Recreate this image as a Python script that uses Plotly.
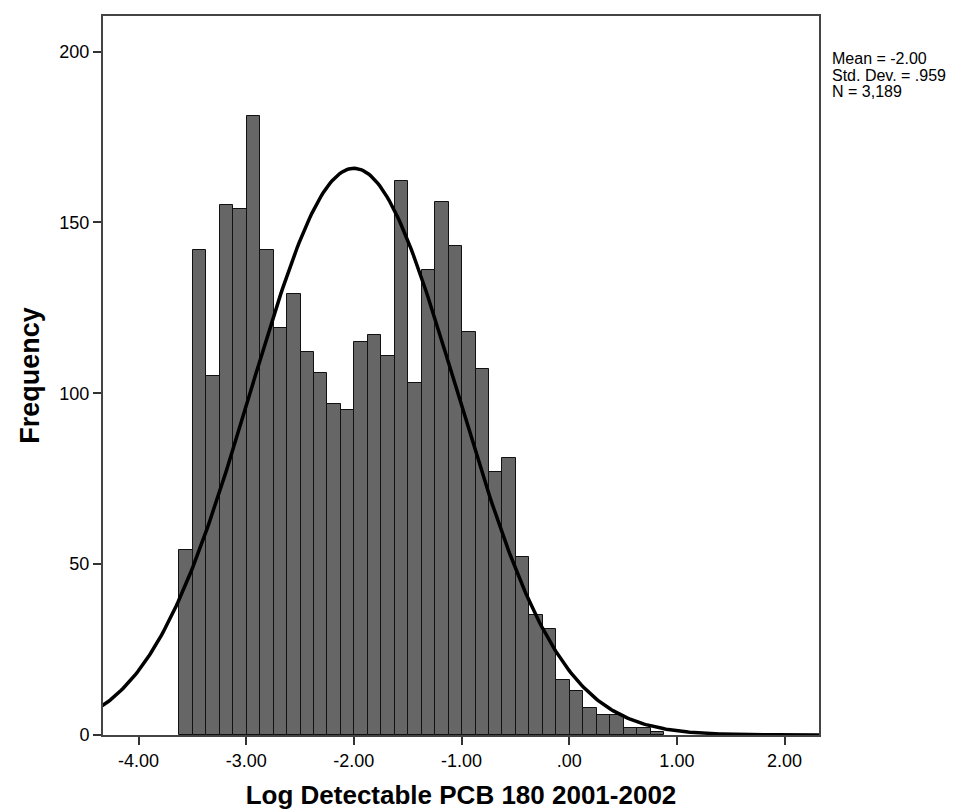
import numpy as np
import plotly.graph_objects as go

# histogram counts (bin width ~0.125, first bin starts at -3.62)
bin_start = -3.62
bin_width = 0.125
counts = [54, 142, 105, 155, 154, 181, 142, 119, 129, 112, 106, 97, 95, 115, 117,
          111, 162, 103, 136, 156, 143, 118, 107, 77, 81, 52, 35, 31, 16, 13, 8,
          6, 6, 2, 2, 1]

mean = -2.00
std_dev = 0.959
n_total = 3189

x_ticks = [-4, -3, -2, -1, 0, 1, 2]
x_tick_labels = ["-4.00", "-3.00", "-2.00", "-1.00", ".00", "1.00", "2.00"]
y_ticks = [0, 50, 100, 150, 200]

centers = [bin_start + bin_width * (i + 0.5) for i in range(len(counts))]

# normal curve scaled to counts
xs = np.linspace(-4.4, 2.4, 400)
ys = n_total * bin_width / (std_dev * np.sqrt(2 * np.pi)) * np.exp(-0.5 * ((xs - mean) / std_dev) ** 2)

fig = go.Figure()
fig.add_trace(go.Bar(
    x=centers, y=counts, width=bin_width,
    marker=dict(color="#666666", line=dict(color="#111111", width=1)),
    showlegend=False,
))
fig.add_trace(go.Scatter(
    x=xs, y=ys, mode="lines",
    line=dict(color="black", width=3.5),
    showlegend=False,
))

stats = ["Mean = -2.00", "Std. Dev. = .959", "N = 3,189"]
for i, s in enumerate(stats):
    fig.add_annotation(
        text=s, xref="paper", yref="paper",
        x=1.016, y=(727 - 51 - 16 * i) / 719,
        xanchor="left", yanchor="middle", showarrow=False,
        font=dict(family="Arial, Liberation Sans", size=16, color="black"),
    )

fig.update_layout(
    width=966, height=812,
    margin=dict(l=95, r=155, t=8, b=85, autoexpand=False),
    plot_bgcolor="white", paper_bgcolor="white",
    bargap=0,
    font=dict(family="Arial, Liberation Sans", color="black"),
)
fig.update_xaxes(
    range=[-4.33, 2.32], automargin=False,
    tickvals=x_ticks, ticktext=x_tick_labels,
    ticks="outside", ticklen=8, tickcolor="#333333", tickwidth=1.5,
    tickfont=dict(size=18),
    showline=True, linecolor="#444444", linewidth=2, mirror=True,
    showgrid=False, zeroline=False,
    title=dict(text="<b>Log Detectable PCB 180 2001-2002</b>", font=dict(size=26), standoff=16),
)
fig.update_yaxes(
    range=[0, 210.4], automargin=False,
    tickvals=y_ticks,
    ticks="outside", ticklen=8, tickcolor="#333333", tickwidth=1.5,
    tickfont=dict(size=18),
    showline=True, linecolor="#444444", linewidth=2, mirror=True,
    showgrid=False, zeroline=False,
    title=dict(text="<b>Frequency</b>", font=dict(size=27), standoff=12),
)

fig.write_html("out.html")
